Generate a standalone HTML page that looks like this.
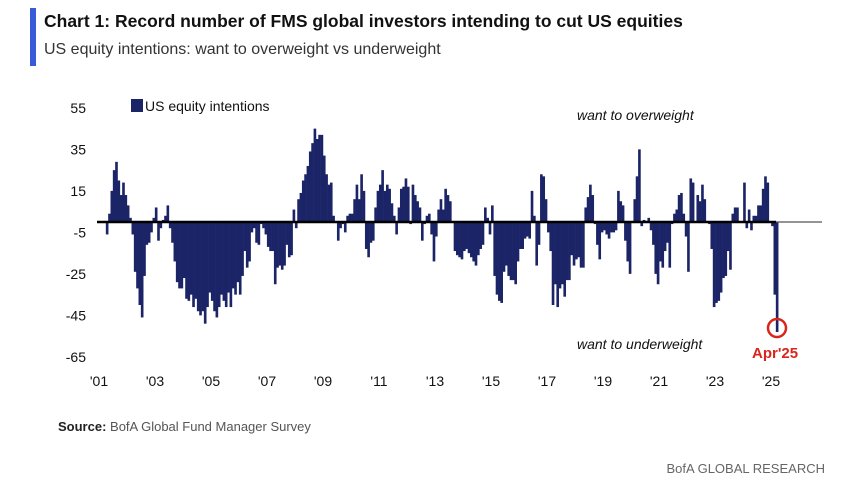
<!DOCTYPE html>
<html><head><meta charset="utf-8"><style>
body{margin:0;background:#fff;font-family:"Liberation Sans",Arial,sans-serif}
svg{display:block}
</style></head><body>
<svg width="843" height="487" viewBox="0 0 843 487" xmlns="http://www.w3.org/2000/svg">
<rect x="0" y="0" width="843" height="487" fill="#fff"/>
<rect x="30" y="8" width="6" height="58" fill="#3a5bd9"/>
<text x="44" y="27" font-size="17.5" font-weight="bold" fill="#111">Chart 1: Record number of FMS global investors intending to cut US equities</text>
<text x="44" y="54" font-size="16" fill="#333">US equity intentions: want to overweight vs underweight</text>
<rect x="131" y="99" width="12" height="13" fill="#1b2466"/>
<text x="145" y="111" font-size="14" fill="#111">US equity intentions</text>
<text x="577" y="120" font-size="14" font-style="italic" fill="#111">want to overweight</text>
<text x="577" y="349" font-size="14" font-style="italic" fill="#111">want to underweight</text>
<g id="yaxis"></g>
<g id="xaxis"></g>
<g id="bars"></g>
<line x1="97" y1="222" x2="776" y2="222" stroke="#000" stroke-width="2.5"/>
<line x1="776" y1="222" x2="822" y2="222" stroke="#555" stroke-width="1.2"/>
<circle cx="777" cy="328" r="9" fill="none" stroke="#d9261c" stroke-width="2.5"/>
<text x="752" y="358" font-size="15" font-weight="bold" fill="#d9261c">Apr'25</text>
<text x="58" y="431" font-size="13" fill="#555"><tspan font-weight="bold" fill="#222">Source:</tspan> BofA Global Fund Manager Survey</text>
<text x="825" y="473" font-size="13" fill="#666" text-anchor="end">BofA GLOBAL RESEARCH</text>
</svg>
<script>
const yTicks = [55, 35, 15, -5, -25, -45, -65];
const xTickLabels = ["'01","'03","'05","'07","'09","'11","'13","'15","'17","'19","'21","'23","'25"];
const xTickYears = [2001,2003,2005,2007,2009,2011,2013,2015,2017,2019,2021,2023,2025];
const startYear = 2001;
const startMonth = 3; // April 2001 (0-based)
const values = [
-6,4,15,25,29,20,13,19,13,8,2,-6,-24,-32,-40,-46,-26,-11,-10,-5,2,7,-9,-3,1,3,8,-3,-10,-19,-29,-32,-32,-27,-37,-38,-35,-41,-37,-43,-45,-43,-49,-41,-34,-38,-43,-46,-41,-35,-38,-41,-34,-41,-32,-35,-29,-35,-26,-14,-22,-19,-5,-3,-10,-11,-1,-3,-6,-12,-14,
-14,-30,-22,-21,-23,-21,-11,-17,-16,6,-3,11,14,20,23,27,34,38,45,40,42,42,32,23,18,19,3,0,-9,-3,-1,-5,3,4,4,11,18,11,23,15,-13,-17,-10,-9,7,15,18,25,15,18,16,9,3,-6,7,16,17,21,17,-1,18,13,10,7,-9,-1,3,4,-6,-19,
-7,6,11,6,16,13,10,0,-14,-16,-17,-18,-14,-13,-15,-17,-19,-21,-16,-13,-11,7,2,-6,8,-26,-35,-38,-39,-24,-21,-26,-28,-28,-30,-19,-13,-13,-8,-7,-8,15,3,-21,-11,23,22,11,-5,-14,-40,-30,-41,-32,-30,-36,-28,-28,-16,-21,-18,-17,-22,-22,7,12,18,13,-1,-11,-18,-5,-4,-6,-8,-5,
-5,-4,15,10,8,-9,-19,-25,0,11,22,35,-2,1,0,2,-4,-11,-25,-30,-19,-22,-14,-10,-22,-1,4,6,13,14,4,-7,-24,21,19,0,13,10,18,11,0,-1,-13,-41,-39,-38,-34,-27,-26,-14,-23,4,7,7,0,0,19,-3,6,-4,3,3,8,8,16,22,19,0,-2,-35,-53
];
const NS = "http://www.w3.org/2000/svg";
function yScale(v){ return 222 - v * 2.075; }
function xYear(yr){ return 99 + (yr - 2001) * 28; }
// bars laid out between first month (Apr'01) and last month (Apr'25)
const firstX = xYear(startYear + startMonth/12) + 1;
const lastX = 777;
function xBar(i){ return firstX + i * (lastX - firstX) / (values.length - 1); }
const step = (lastX - firstX) / (values.length - 1);

const ya = document.getElementById('yaxis');
yTicks.forEach(t => {
  const tx = document.createElementNS(NS, 'text');
  tx.setAttribute('x', 86);
  tx.setAttribute('y', yScale(t) + 5);
  tx.setAttribute('text-anchor', 'end');
  tx.setAttribute('font-size', '14');
  tx.setAttribute('fill', '#111');
  tx.textContent = t;
  
  
  ya.appendChild(tx);
});
const xa = document.getElementById('xaxis');
xTickLabels.forEach((l, k) => {
  const tx = document.createElementNS(NS, 'text');
  tx.setAttribute('x', xYear(xTickYears[k]));
  tx.setAttribute('y', 386);
  tx.setAttribute('text-anchor', 'middle');
  tx.setAttribute('font-size', '14');
  tx.setAttribute('fill', '#111');
  tx.textContent = l;
  
  
  xa.appendChild(tx);
});
const bg = document.getElementById('bars');
values.forEach((v, i) => {
  const r = document.createElementNS(NS, 'rect');
  const y0 = yScale(0), y1 = yScale(v);
  r.setAttribute('x', (xBar(i) - step/2).toFixed(2));
  r.setAttribute('width', (step + 0.3).toFixed(2));
  r.setAttribute('y', Math.min(y0, y1).toFixed(2));
  r.setAttribute('height', Math.max(Math.abs(y1 - y0), 0.5).toFixed(2));
  r.setAttribute('fill', '#1b2466');
  
  
  bg.appendChild(r);
});
</script>
</body></html>
